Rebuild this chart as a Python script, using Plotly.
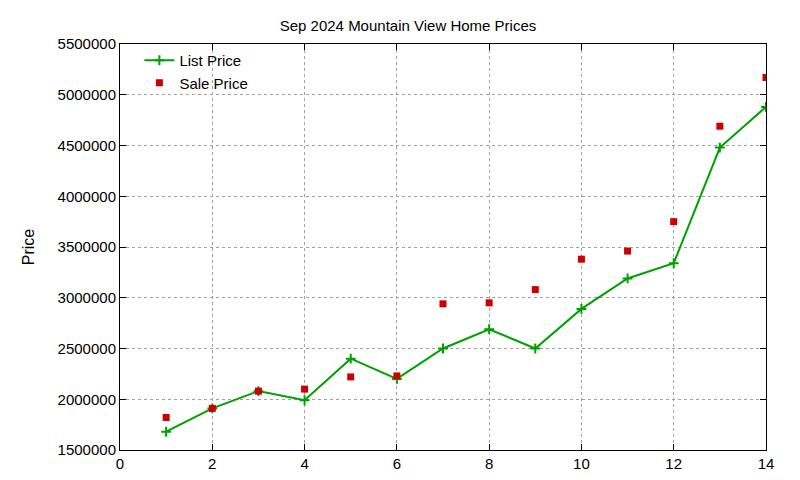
import plotly.graph_objects as go

months = list(range(1, 15))
list_price = [1680000, 1910000, 2080000, 1990000, 2400000, 2200000, 2500000,
              2690000, 2500000, 2890000, 3190000, 3340000, 4480000, 4880000]
sale_price = [1820000, 1910000, 2080000, 2100000, 2220000, 2230000, 2940000,
              2950000, 3080000, 3380000, 3460000, 3750000, 4690000, 5170000]

fig = go.Figure()
fig.add_trace(go.Scatter(x=months, y=list_price, mode="lines+markers", name="List Price",
                         line=dict(color="#00a000", width=2),
                         marker=dict(symbol="cross-thin", size=7, line=dict(color="#00a000", width=2))))
fig.add_trace(go.Scatter(x=months, y=sale_price, mode="markers", name="Sale Price",
                         marker=dict(symbol="square", size=7, color="#cc0000")))

axis = dict(showline=True, mirror="ticks", linecolor="black", linewidth=1,
            ticks="inside", ticklen=6, tickcolor="black",
            showgrid=True, gridcolor="#a0a0a0", griddash="dot", gridwidth=1,
            zeroline=False, tickfont=dict(size=15, color="black"))
fig.update_xaxes(range=[0, 14], dtick=2, **axis)
fig.update_yaxes(range=[1500000, 5500000], dtick=500000, tickformat="d",
                 title=dict(text="Price", font=dict(size=16, color="black"), standoff=18), **axis)
fig.update_layout(
    width=800, height=480, plot_bgcolor="white", paper_bgcolor="white",
    font=dict(family="Liberation Sans, Arial, sans-serif", color="black"),
    title=dict(text="Sep 2024 Mountain View Home Prices", x=0.5, xanchor="center",
               y=0.975, font=dict(size=15)),
    margin=dict(l=112, r=42, t=36, b=38),
    legend=dict(x=0.03, y=1.0, xanchor="left", yanchor="top", bgcolor="rgba(255,255,255,0)",
                font=dict(size=15), tracegroupgap=0),
)
fig.write_html("out.html")
